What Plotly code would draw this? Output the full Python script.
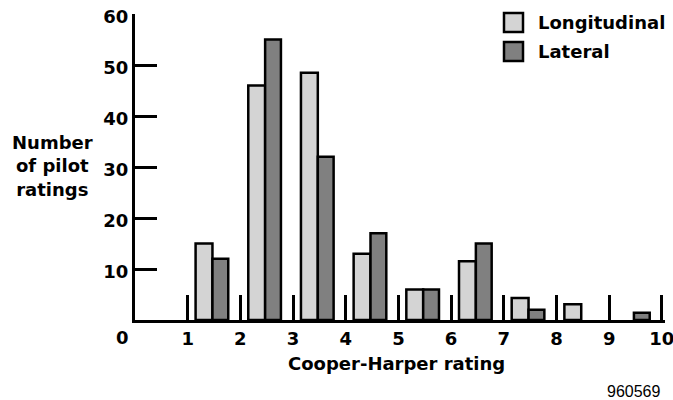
import plotly.graph_objects as go

# ---- data ----
rating_bins = [1, 2, 3, 4, 5, 6, 7, 8, 9]          # lower edge of each rating bin
longitudinal = [15, 46, 48.5, 13, 6, 11.5, 4.3, 3.1, 0]
lateral = [12, 55, 32, 17, 6, 15, 2, 0, 1.4]
x_ticks = [1, 2, 3, 4, 5, 6, 7, 8, 9, 10]
y_ticks = [10, 20, 30, 40, 50, 60]

W, H = 673, 400
XMAX = 10.06
ML, MR, MT, MB = 135, 8, 14, 80
PW, PH = W - ML - MR, H - MT - MB

def px(xp):   # pixel x -> paper
    return (xp - ML) / PW

def py(yp):   # pixel y -> paper
    return (H - MB - yp) / PH

FONT = "DejaVu Sans"
centers = [b + 0.5 for b in rating_bins]

def nz(v):
    return [None if a == 0 else a for a in v]

fig = go.Figure()
fig.add_trace(go.Bar(
    x=centers, y=nz(longitudinal), name="Longitudinal",
    width=0.32, offset=-0.35,
    marker=dict(color="#d4d4d4", line=dict(color="black", width=2.5)),
))
fig.add_trace(go.Bar(
    x=centers, y=nz(lateral), name="Lateral",
    width=0.30, offset=-0.03,
    marker=dict(color="#808080", line=dict(color="black", width=2.5)),
))

fig.update_layout(
    width=W, height=H,
    margin=dict(l=ML, r=MR, t=MT, b=MB, pad=0, autoexpand=False),
    paper_bgcolor="white", plot_bgcolor="white",
    barmode="overlay", showlegend=False,
    font=dict(family=FONT, size=18, color="black", weight="bold"),
    xaxis=dict(
        range=[0, XMAX], tickvals=x_ticks, ticktext=[str(t) for t in x_ticks],
        ticks="inside", ticklen=25, tickwidth=3, tickcolor="black",
        showline=True, linewidth=3, linecolor="black", automargin=False,
        showgrid=False, zeroline=False, ticklabeloverflow="allow",
        tickfont=dict(family=FONT, size=18, weight="bold"),
    ),
    yaxis=dict(
        range=[0, 60.01], tickvals=y_ticks, ticktext=[str(t) for t in y_ticks],
        ticks="inside", ticklen=22, tickwidth=3, tickcolor="black",
        showline=True, linewidth=3, linecolor="black", automargin=False,
        showgrid=False, zeroline=False, ticklabelshift=3,
        ticklabeloverflow="allow",
        tickfont=dict(family=FONT, size=18, weight="bold"),
    ),
)

ann = []
# origin label
ann.append(dict(x=px(122), y=py(337), xref="paper", yref="paper", text="0",
                showarrow=False, xanchor="center", yanchor="middle",
                font=dict(family=FONT, size=18, weight="bold")))
# x title
ann.append(dict(x=px(396), y=py(363), xref="paper", yref="paper",
                text="Cooper-Harper rating", showarrow=False,
                xanchor="center", yanchor="middle",
                font=dict(family=FONT, size=18, weight="bold")))
# y title
ann.append(dict(x=px(52), y=py(166), xref="paper", yref="paper",
                text="Number<br>of pilot<br>ratings", showarrow=False,
                xanchor="center", yanchor="middle", align="center",
                font=dict(family=FONT, size=18, weight="bold")))
# footer id
ann.append(dict(x=px(662), y=py(391), xref="paper", yref="paper",
                text="960569", showarrow=False,
                xanchor="right", yanchor="middle",
                font=dict(family="Liberation Sans", size=16, weight="normal")))
# legend
leg = [("Longitudinal", "#d4d4d4", 13, 32), ("Lateral", "#808080", 42, 61)]
shapes = []
for name, col, y0, y1 in leg:
    shapes.append(dict(type="rect", xref="paper", yref="paper",
                       x0=px(504), x1=px(523), y0=py(y1), y1=py(y0),
                       fillcolor=col, line=dict(color="black", width=2.5)))
    ann.append(dict(x=px(536), y=py((y0 + y1) / 2), xref="paper", yref="paper",
                    text=name, showarrow=False, xanchor="left", yanchor="middle",
                    font=dict(family=FONT, size=18, weight="bold")))

fig.update_layout(annotations=ann, shapes=shapes)
fig.write_html("out.html")
